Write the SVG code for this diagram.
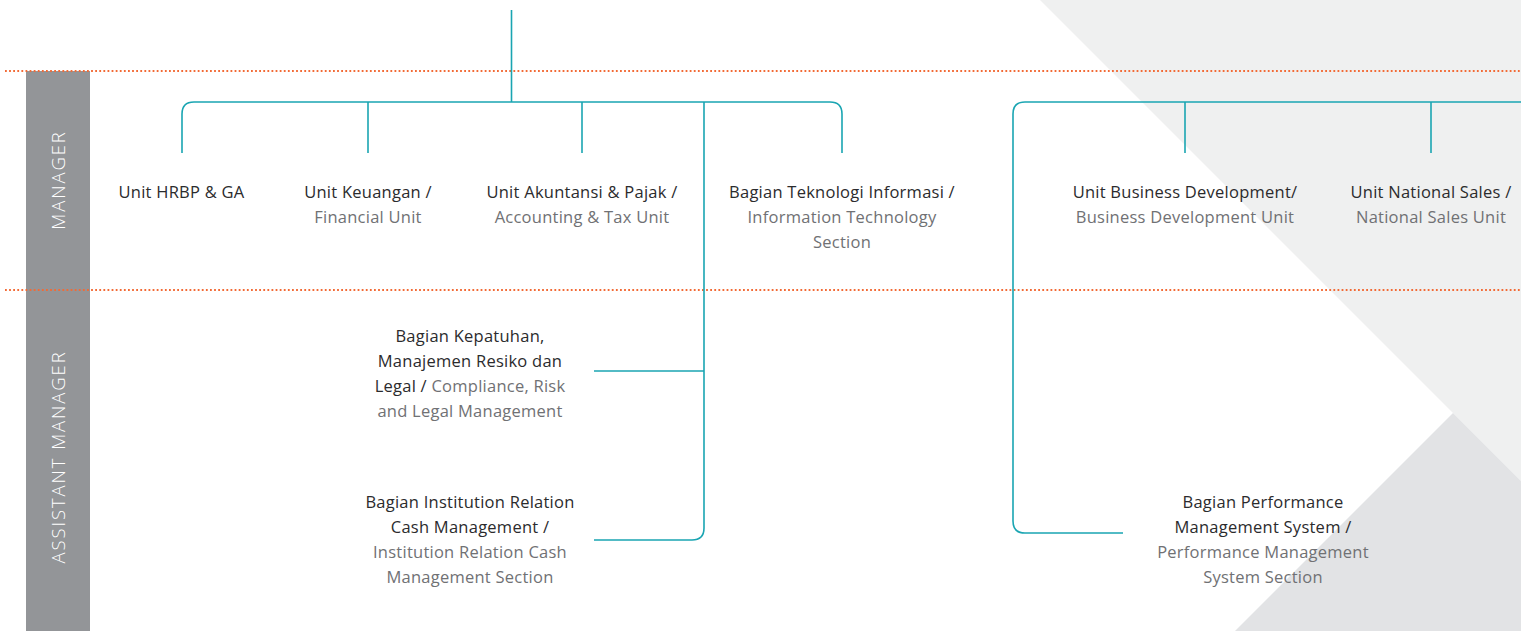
<svg xmlns="http://www.w3.org/2000/svg" width="1521" height="631" viewBox="0 0 1521 631">
<style>
text{font-family:"Open Sans","Liberation Sans",sans-serif;font-size:16.5px;letter-spacing:0.25px;text-anchor:middle}
.d{fill:#2b2b2d}
.g{fill:#707174}
.lvl{fill:#ffffff;font-size:18.5px;font-weight:300;letter-spacing:1.9px}
.con{fill:none;stroke:#1aa5b2;stroke-width:1.6}
.dot{stroke:#f26a35;stroke-width:1.8;stroke-dasharray:1.8 2.3}
</style>
<rect width="1521" height="631" fill="#ffffff"/>
<polygon points="1040,0 1521,0 1521,481" fill="#eff0f0"/>
<polygon points="1453,413 1521,481 1521,631 1235,631" fill="#e2e3e5"/>
<rect x="26" y="71" width="64" height="560" fill="#939598"/>
<text class="lvl" transform="translate(64.5,180) rotate(-90)">MANAGER</text>
<text class="lvl" transform="translate(64.5,457) rotate(-90)">ASSISTANT MANAGER</text>
<line class="dot" x1="5" y1="71" x2="1521" y2="71"/>
<line class="dot" x1="5" y1="290" x2="1521" y2="290"/>
<g id="connectors">
<line class="con" x1="511.5" y1="10" x2="511.5" y2="102"/>
<path class="con" d="M182,153 V114 Q182,102 194,102 H830 Q842,102 842,114 V153"/>
<line class="con" x1="368" y1="102" x2="368" y2="153"/>
<line class="con" x1="582" y1="102" x2="582" y2="153"/>
<path class="con" d="M704,102 V528 Q704,540 692,540 H594"/>
<line class="con" x1="594" y1="371" x2="704" y2="371"/>
<path class="con" d="M1521,102 H1025 Q1013,102 1013,114 V521 Q1013,533 1025,533 H1123"/>
<line class="con" x1="1185" y1="102" x2="1185" y2="153"/>
<line class="con" x1="1431" y1="102" x2="1431" y2="153"/>
</g>
<g id="n-hrbp"><text class="d" x="181.5" y="198">Unit HRBP &amp; GA</text></g>
<g id="n-keuangan"><text class="d" x="368" y="198">Unit Keuangan /</text><text class="g" x="368" y="223">Financial Unit</text></g>
<g id="n-akuntansi"><text class="d" x="582" y="198">Unit Akuntansi &amp; Pajak /</text><text class="g" x="582" y="223">Accounting &amp; Tax Unit</text></g>
<g id="n-ti"><text class="d" x="842" y="198">Bagian Teknologi Informasi /</text><text class="g" x="842" y="223">Information Technology</text><text class="g" x="842" y="248">Section</text></g>
<g id="n-busdev"><text class="d" x="1185" y="198">Unit Business Development/</text><text class="g" x="1185" y="223">Business Development Unit</text></g>
<g id="n-sales"><text class="d" x="1431" y="198">Unit National Sales /</text><text class="g" x="1431" y="223">National Sales Unit</text></g>
<g id="n-kepatuhan"><text class="d" x="470" y="342">Bagian Kepatuhan,</text><text class="d" x="470" y="367">Manajemen Resiko dan</text><text x="470" y="392"><tspan class="d">Legal / </tspan><tspan class="g">Compliance, Risk</tspan></text><text class="g" x="470" y="417">and Legal Management</text></g>
<g id="n-institution"><text class="d" x="470" y="508">Bagian Institution Relation</text><text class="d" x="470" y="533">Cash Management /</text><text class="g" x="470" y="558">Institution Relation Cash</text><text class="g" x="470" y="583">Management Section</text></g>
<g id="n-performance"><text class="d" x="1263" y="508">Bagian Performance</text><text class="d" x="1263" y="533">Management System /</text><text class="g" x="1263" y="558">Performance Management</text><text class="g" x="1263" y="583">System Section</text></g>
</svg>
